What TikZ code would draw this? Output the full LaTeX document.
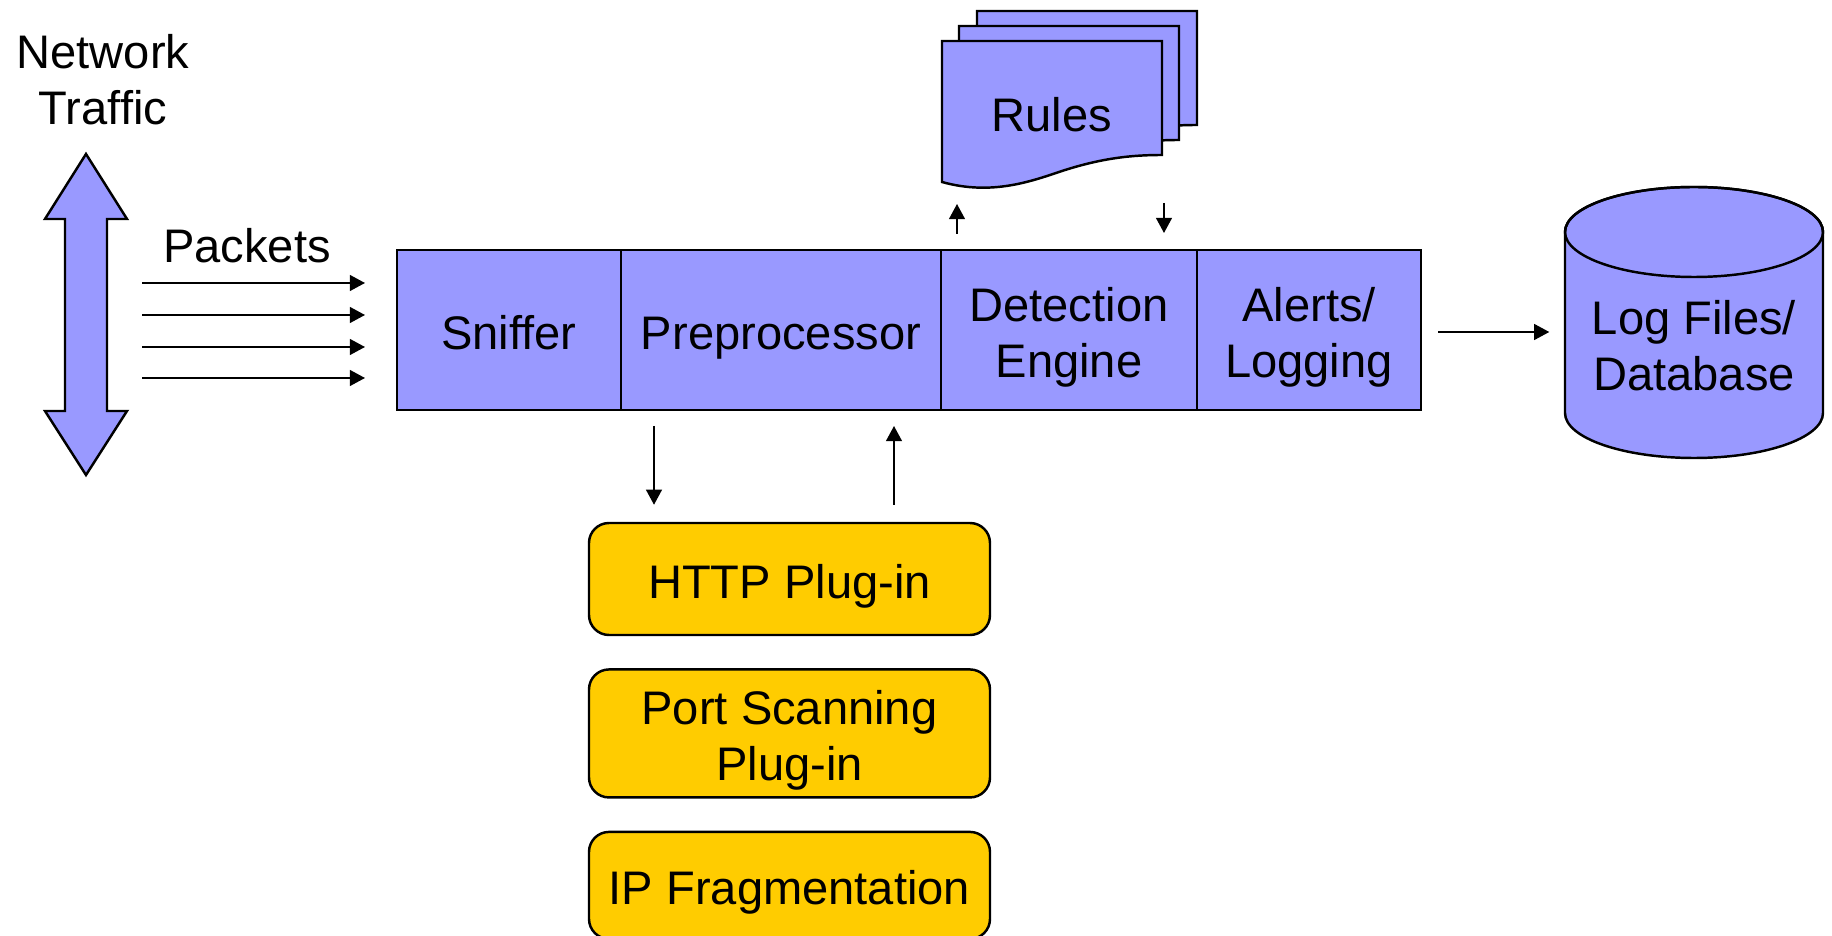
\documentclass[tikz,border=0pt]{standalone}
\usepackage{fontspec}
\setmainfont{Liberation Sans}
\definecolor{snortblue}{HTML}{9999FF}
\definecolor{plugyellow}{HTML}{FFCC00}
\usetikzlibrary{arrows.meta, positioning}
\newcommand{\boxstrut}{\rule[-3.7pt]{0pt}{18.4pt}}

\begin{document}
\begin{tikzpicture}[
    every node/.style={font=\fontsize{13.4}{16}\selectfont},
    cell/.style={draw, fill=snortblue, line width=0.7pt, minimum height=1.6cm,
                 inner sep=0pt, outer sep=0pt, align=center,
                 execute at begin node=\boxstrut, execute at end node=\boxstrut},
    plugin/.style={draw, fill=plugyellow, line width=0.7pt, rounded corners=2mm,
                   minimum width=4.01cm, inner sep=0pt, align=center,
                   execute at begin node=\boxstrut, execute at end node=\boxstrut},
    sheet/.style={draw, fill=snortblue, line width=0.7pt},
    arrow/.style={-{Triangle[length=4.3pt,width=4.5pt]}, line width=0.5pt}
  ]
    \useasboundingbox (0,0) rectangle (18.32,-9.36);

    % Traffic
    \node[align=center] (traffic) at (1.03,-0.80) {Network\\Traffic};
    \draw[sheet] (0.86,-1.54) -- (1.27,-2.19) -- (1.07,-2.19) -- (1.07,-4.11)
      -- (1.27,-4.11) -- (0.86,-4.75) -- (0.45,-4.11) -- (0.65,-4.11)
      -- (0.65,-2.19) -- (0.45,-2.19) -- cycle;

    % Pipeline
    \node[cell, minimum width=2.24cm] (sniffer) at (5.09,-3.30) {Sniffer};
    \node[cell, minimum width=3.20cm, right=0pt of sniffer] (prep) {Preprocessor};
    \node[cell, minimum width=2.56cm, right=0pt of prep] (detect)
      {\boxstrut Detection\\Engine};
    \node[cell, minimum width=2.24cm, right=0pt of detect] (alerts)
      {\boxstrut Alerts/\\Logging};

    % Packets
    \node (packets) at (2.47,-2.46) {Packets};
    \foreach \y [count=\i] in {2.83,3.15,3.47,3.78} {
      \coordinate (pin\i) at (1.42,-\y);
      \draw[arrow, shorten >=0.32cm] (pin\i) -- (pin\i -| sniffer.west);
    }

    % Rules
    \foreach \dx/\dy in {0.35/0.30, 0.17/0.15, 0/0}
      \draw[sheet, shift={(9.42+\dx,-0.41+\dy)}] (0,0) -- (2.2,0) -- (2.2,-1.14)
        .. controls (1.9,-1.14) and (1.6,-1.17) .. (1.2,-1.30)
        .. controls (0.9,-1.40) and (0.5,-1.55) .. (0,-1.41) -- cycle;
    \node (rules) at (10.52,-1.15) {Rules};
    \draw[arrow] ([xshift=1.6mm,yshift=1.6mm]detect.north west) -- ++(0,0.30);
    \draw[arrow] ([xshift=-3.3mm,yshift=4.7mm]detect.north east) -- ++(0,-0.30);

    % Plug-ins
    \node[plugin, minimum height=1.12cm] (http) at (7.895,-5.79) {HTTP Plug-in};
    \node[plugin, minimum height=1.28cm, below=0.32cm of http] (portscan)
      {\boxstrut Port Scanning\\Plug-in};
    \node[plugin, minimum height=1.07cm, below=0.32cm of portscan] (ipfrag)
      {IP Fragmentation};

    \coordinate (pd) at ([xshift=3.3mm,yshift=-1.6mm]prep.south west);
    \coordinate (pu) at ([xshift=-4.7mm,yshift=-1.6mm]prep.south east);
    \draw[arrow, shorten >=1.7mm] (pd) -- (pd |- http.north);
    \draw[arrow, shorten <=1.7mm] (pu |- http.north) -- (pu);

    % Log store
    \draw[sheet] (15.65,-2.32) -- (15.65,-4.13)
      arc[start angle=180, end angle=360, x radius=1.29, y radius=0.45]
      -- (18.23,-2.32)
      arc[start angle=0, end angle=180, x radius=1.29, y radius=0.45] -- cycle;
    \draw[line width=0.7pt] (16.94,-2.32) ellipse [x radius=1.29, y radius=0.45];
    \node[align=center, minimum width=2.58cm, inner sep=0pt] (db) at (16.94,-3.455)
      {Log Files/\\Database};

    \coordinate (la) at ([xshift=1.7mm,yshift=-0.2mm]alerts.east);
    \draw[arrow, shorten >=1.5mm] (la) -- (la -| db.west);
  \end{tikzpicture}
\end{document}
